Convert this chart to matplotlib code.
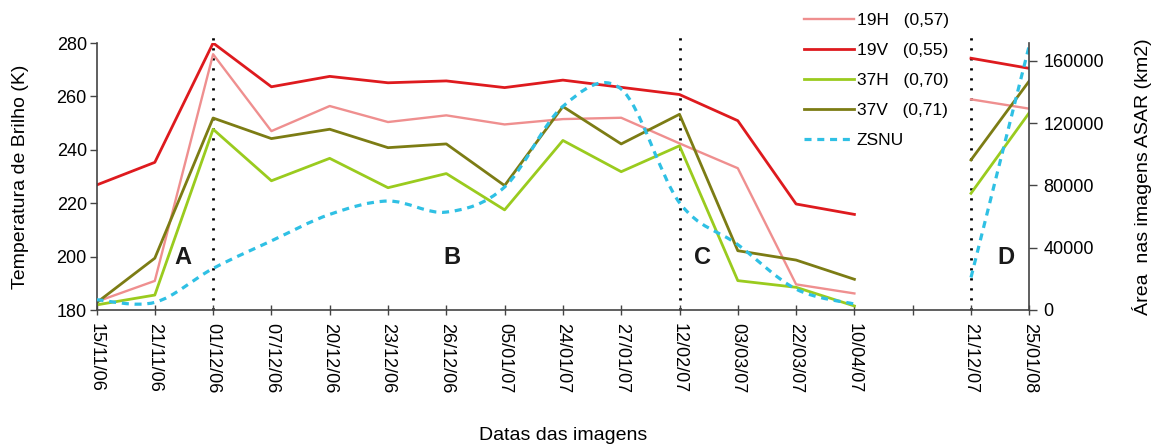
import numpy as np
import matplotlib
matplotlib.use("Agg")
import matplotlib.pyplot as plt
from matplotlib.path import Path
from matplotlib.patches import PathPatch
from matplotlib.lines import Line2D

plt.rcParams['font.family'] = ['Liberation Sans', 'DejaVu Sans']

nan = np.nan
dates = ['15/11/06', '21/11/06', '01/12/06', '07/12/06', '20/12/06', '23/12/06',
         '26/12/06', '05/01/07', '24/01/07', '27/01/07', '12/02/07', '03/03/07',
         '22/03/07', '10/04/07', '', '21/12/07', '25/01/08']
t19h = [183.1, 190.9, 275.8, 247.0, 256.4, 250.4, 252.9, 249.5, 251.5, 252.0,
        242.4, 233.1, 189.6, 186.2, nan, 258.9, 255.4]
t19v = [226.8, 235.3, 280.0, 263.6, 267.5, 265.1, 265.8, 263.3, 266.1, 263.4,
        260.7, 250.9, 219.7, 215.8, nan, 274.3, 270.5]
t37h = [181.9, 185.6, 247.7, 228.4, 236.8, 225.8, 231.1, 217.5, 243.5, 231.8,
        241.5, 191.0, 188.5, 181.5, nan, 223.7, 253.9]
t37v = [182.7, 199.4, 251.9, 244.2, 247.7, 240.8, 242.2, 226.6, 256.2, 242.2,
        253.3, 202.2, 198.7, 191.5, nan, 236.2, 265.8]
zsnu = [6600, 4900, 26700, 44400, 61400, 70000, 62900, 79000, 130800, 141900,
        68900, 42000, 13400, 3800, nan, 20900, 170000]
labels = ['19H   (0,57)', '19V   (0,55)', '37H   (0,70)', '37V   (0,71)', 'ZSNU']
phases = ['A', 'B', 'C', 'D']
phase_x = [1.48, 6.1, 10.4, 15.6]
phase_y = 199.5
dividers = [2, 10, 15]

c19h = '#EF8F8F'
c19v = '#DE1A1E'
c37h = '#9ACB1E'
c37v = '#7C7C14'
czs = '#2FC0E4'

fig = plt.figure(figsize=(11.58, 4.48), dpi=100)
ax = fig.add_axes([96.5 / 1158, 1 - 310 / 448, (1029.3 - 96.5) / 1158, 267 / 448])
x = np.arange(len(dates))

l1, = ax.plot(x, t19h, color=c19h, lw=1.7, label=labels[0])
l2, = ax.plot(x, t19v, color=c19v, lw=2.0, label=labels[1])
l3, = ax.plot(x, t37h, color=c37h, lw=2.0, label=labels[2])
l4, = ax.plot(x, t37v, color=c37v, lw=2.0, label=labels[3])

ax.set_xlim(0, 16)
ax.set_ylim(180, 280)
ax.set_yticks([180, 200, 220, 240, 260, 280])
ax.set_xticks(x)
ax.set_xticklabels(dates, rotation=-90, fontsize=13)
ax.tick_params(axis='x', direction='inout', length=7, width=1, color='#444444', pad=6)
ax.tick_params(axis='y', direction='out', length=5, width=1, color='#444444', labelsize=13, pad=2)
for s in ['top', 'right']:
    ax.spines[s].set_visible(False)
for s in ['left', 'bottom']:
    ax.spines[s].set_color('#444444')
    ax.spines[s].set_linewidth(1.2)

for d in dividers:
    ax.axvline(d, ymin=0, ymax=1.042, color='black', lw=2.0,
               linestyle=(0, (0.8, 2.8)), clip_on=False, zorder=1)

for t, px in zip(phases, phase_x):
    ax.text(px, phase_y, t, fontsize=17, fontweight='bold', ha='center', va='center', color='#1a1a1a')

ax.set_ylabel('Temperatura de Brilho (K)', fontsize=14, va='center', ha='center', rotation_mode='default')
ax.yaxis.set_label_coords((21 - 96.5) / 932.8, 0.5)
ax.set_xlabel('Datas das imagens', fontsize=14)
ax.xaxis.set_label_coords(0.5, (310 - 427) / 267)

ax2 = ax.twinx()
ax2.set_ylim(0, 171500)
ax2.set_yticks([0, 40000, 80000, 120000, 160000])
ax2.tick_params(axis='y', direction='out', length=6, width=1, color='#444444', labelsize=13, pad=4)
for s in ['top', 'left', 'bottom']:
    ax2.spines[s].set_visible(False)
ax2.spines['right'].set_color('#444444')
ax2.spines['right'].set_linewidth(1.2)
ax2.set_ylabel('Área  nas imagens ASAR (km2)', fontsize=14, va='center', ha='center', rotation_mode='default')
ax2.yaxis.set_label_coords((1141.7 - 96.5) / 932.8, 0.5)


def smooth_path(xs, ys):
    pts = np.column_stack([xs, ys])
    n = len(pts)
    verts = [tuple(pts[0])]
    codes = [Path.MOVETO]
    if n == 2:
        verts.append(tuple(pts[1]))
        codes.append(Path.LINETO)
        return Path(verts, codes)
    for i in range(n - 1):
        p0 = pts[i - 1] if i > 0 else pts[i]
        p1 = pts[i]
        p2 = pts[i + 1]
        p3 = pts[i + 2] if i + 2 < n else pts[i + 1]
        c1 = p1 + (p2 - p0) / 6.0
        c2 = p2 - (p3 - p1) / 6.0
        verts += [tuple(c1), tuple(c2), tuple(p2)]
        codes += [Path.CURVE4, Path.CURVE4, Path.CURVE4]
    return Path(verts, codes)


zs = np.array(zsnu, dtype=float)
segs = []
cur = []
for i, v in enumerate(zs):
    if np.isnan(v):
        if cur:
            segs.append(cur)
        cur = []
    else:
        cur.append(i)
if cur:
    segs.append(cur)
for seg in segs:
    p = smooth_path(x[seg].astype(float), zs[seg])
    ax2.add_patch(PathPatch(p, fill=False, edgecolor=czs, lw=2.3,
                            linestyle=(0, (2.2, 1.8)), capstyle='butt'))

l5 = Line2D([], [], color=czs, lw=2.3, linestyle=(0, (2.2, 1.8)), label=labels[4])

fig.legend(handles=[l1, l2, l3, l4, l5], loc='upper left',
           bbox_to_anchor=(797 / 1158, 1 - 6 / 448), frameon=False,
           fontsize=12.5, handlelength=2.9, handletextpad=0.15,
           labelspacing=0.86, borderaxespad=0)

fig.savefig('out.png', dpi=100)
